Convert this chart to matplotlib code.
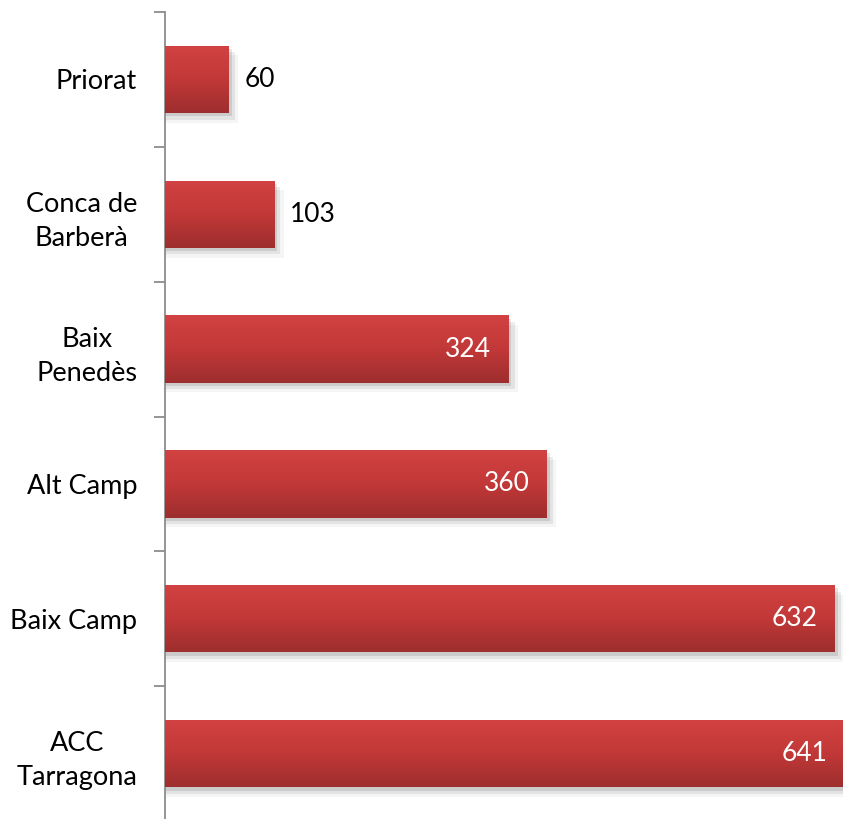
import numpy as np
import matplotlib
matplotlib.use("Agg")
import matplotlib.pyplot as plt
import matplotlib.colors as mcolors

categories = ["Priorat", "Conca de\nBarberà", "Baix\nPenedès", "Alt Camp", "Baix Camp", "ACC\nTarragona"]
values = [60, 103, 324, 360, 632, 641]

plt.rcParams["font.family"] = ["Lato", "DejaVu Sans"]

fig = plt.figure(figsize=(8.43, 8.19), dpi=100)
ax = fig.add_axes([165 / 843, -2 / 819, 678 / 843, 809 / 819])

n = len(categories)
ypos = np.arange(n)
ax.set_ylim(n - 0.5, -0.5)
ax.set_xlim(0, 640)

grad = mcolors.LinearSegmentedColormap.from_list("redgrad", ["#D24242", "#C23838", "#9E2E2E"])
bars = ax.barh(ypos, values, height=0.5, color="#C23838", zorder=2)

for b, v in zip(bars, values):
    x0, y0 = b.get_x(), b.get_y()
    w, h = b.get_width(), b.get_height()
    # soft shadow
    for k, a in enumerate([0.10, 0.07, 0.04]):
        off = 0.012 * (k + 1)
        ax.add_patch(plt.Rectangle((x0, y0 + off * 2), w + off * 250, h, color="black",
                                   alpha=a, zorder=1, lw=0))
    img = ax.imshow(np.linspace(0, 1, 64).reshape(-1, 1), cmap=grad, aspect="auto",
                    extent=(x0, x0 + w, y0 + h, y0), zorder=3, interpolation="bicubic")
    img.set_clip_path(b)
    if v < 200:
        ax.text(v + 15, b.get_y() + h / 2, str(v), ha="left", va="center",
                fontsize=19, color="black", zorder=4)
    else:
        ax.text(v - 16, b.get_y() + h / 2, str(v), ha="right", va="center",
                fontsize=19, color="white", zorder=4)

ax.set_yticks(ypos)
ax.set_yticklabels(categories, fontsize=19.5, ha="right", multialignment="center",
                   linespacing=1.45)
ax.tick_params(axis="y", which="major", length=0, pad=20)
ax.set_yticks(np.arange(-0.5, n + 0.5, 1), minor=True)
ax.tick_params(axis="y", which="minor", length=8, width=1.3, color="#8C8C8C", direction="out")
ax.set_xticks([])
for s in ["top", "right", "bottom"]:
    ax.spines[s].set_visible(False)
ax.spines["left"].set_color("#8C8C8C")
ax.spines["left"].set_linewidth(1.3)
ax.set_xlim(0, 640)

fig.savefig("out.png", dpi=100)
